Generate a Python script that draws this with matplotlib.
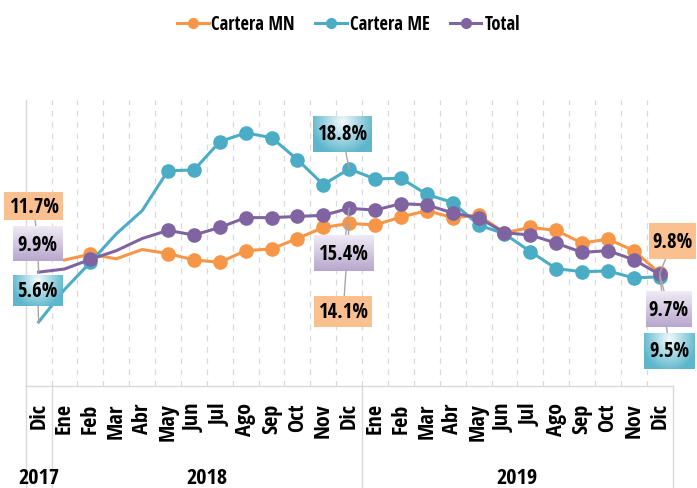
import numpy as np
import matplotlib
matplotlib.use("Agg")
import matplotlib.pyplot as plt
from matplotlib import font_manager as fm
from matplotlib.font_manager import FontProperties
from matplotlib.lines import Line2D
from matplotlib.transforms import IdentityTransform, blended_transform_factory
from matplotlib.colors import to_rgb

# ---------------- data ----------------
months = ['Dic', 'Ene', 'Feb', 'Mar', 'Abr', 'May', 'Jun', 'Jul', 'Ago', 'Sep', 'Oct', 'Nov',
          'Dic', 'Ene', 'Feb', 'Mar', 'Abr', 'May', 'Jun', 'Jul', 'Ago', 'Sep', 'Oct', 'Nov', 'Dic']
years = ['2017', '2018', '2019']
year_pos = [0, 6.5, 18.5]
series_names = ['Cartera MN', 'Cartera ME', 'Total']

cartera_mn = [11.7, 10.95, 11.45, 11.05, 11.85, 11.5, 10.95, 10.75, 11.75, 11.9, 12.8, 13.75,
              14.1, 13.97, 14.65, 15.2, 14.6, 14.8, 13.3, 13.75, 13.5, 12.4, 12.75, 11.75, 9.8]
cartera_me = [5.6, 8.4, 10.75, 13.2, 15.2, 18.65, 18.7, 21.15, 21.9, 21.5, 19.6, 17.45,
              18.8, 17.93, 18.0, 16.6, 15.9, 13.97, 13.2, 11.67, 10.2, 9.94, 10.0, 9.4, 9.5]
total = [9.9, 10.17, 11.0, 11.75, 12.8, 13.5, 13.1, 13.75, 14.6, 14.6, 14.7, 14.8,
         15.4, 15.25, 15.8, 15.7, 15.0, 14.6, 13.3, 13.1, 12.4, 11.6, 11.75, 10.97, 9.7]

# ---------------- font: prefer a narrow/condensed bold face ----------------
def pick_font():
    entries = fm.fontManager.ttflist
    def is_bold(f):
        w = f.weight
        if isinstance(w, str):
            return w in ('bold', 'heavy', 'extra bold', 'black', 'demibold', 'semibold')
        return w >= 600
    prefs = ['Liberation Sans Narrow', 'Open Sans Condensed', 'Arial Narrow',
             'Roboto Condensed', 'Noto Sans Condensed', 'Noto Sans', 'DejaVu Sans']
    cands = []
    for f in entries:
        nm = f.name
        narrow = ('Narrow' in nm or 'Condensed' in nm or 'Cond' in f.fname
                  or f.stretch not in ('normal', 400, 500))
        if narrow and is_bold(f) and 'Mono' not in nm and 'Serif' not in nm and 'Extra' not in f.fname:
            rank = next((i for i, p in enumerate(prefs) if nm.startswith(p)), 99)
            cands.append((rank, f.fname))
    if cands:
        cands.sort()
        return cands[0][1]
    for nm in ['Roboto', 'Liberation Sans', 'DejaVu Sans']:
        try:
            return fm.findfont(FontProperties(family=nm, weight='bold'), fallback_to_default=False)
        except Exception:
            pass
    return fm.findfont(FontProperties(weight='bold'))

FONT_FILE = pick_font()

W, H = 697, 489
fig = plt.figure(figsize=(W / 100, H / 100), dpi=100)
renderer = fig.canvas.get_renderer()

def fp(size):
    return FontProperties(fname=FONT_FILE, size=size)

def fit_size(sample, target_px, maxsize=16.0):
    t = fig.text(0, 0, sample, fontproperties=fp(10))
    w = t.get_window_extent(renderer).width
    t.remove()
    return min(maxsize, 10 * target_px / w)

fs_legend = fit_size('Cartera MN', 84)
fs_label = fit_size('11.7%', 50)
fs_year = fit_size('2017', 42)
fs_month = fit_size('Ene', 34)

# ---------------- axes ----------------
c_mn, c_me, c_tot = '#F79646', '#4BACC6', '#8064A2'
grid_c = '#D9D9D9'

L, R, B, T = 25.7, 672.7, 386.7, 101.0
ax = fig.add_axes([L / W, 1 - B / H, (R - L) / W, (B - T) / H])
XLIM = (-0.5, 24.5)
YLIM = (0.11, 24.74)

x = np.arange(len(months))
marked = [2] + list(range(5, 25))

lw, ms = 2.2, 9.5
ax.plot(x[1:], cartera_mn[1:], color=c_mn, lw=lw, marker='o', ms=ms,
        markevery=[i - 1 for i in marked], zorder=3)
ax.plot(x, cartera_me, color=c_me, lw=lw, marker='o', ms=ms, markevery=marked, zorder=3.1)
ax.plot(x, total, color=c_tot, lw=lw, marker='o', ms=ms, markevery=marked, zorder=3.2)

ax.set_xlim(*XLIM)
ax.set_ylim(*YLIM)

ax.set_xticks(np.arange(0.5, 24, 1), minor=True)
ax.grid(which='minor', axis='x', color=grid_c, lw=0.9, ls=(0, (4.5, 4.5)))
ax.set_axisbelow(True)
ax.set_xticks(x)
ax.set_xticklabels(months, rotation=90, fontproperties=fp(fs_month))
ax.tick_params(axis='x', which='both', length=0, pad=12)
ax.tick_params(axis='y', left=False, labelleft=False)
for s in ['top', 'right']:
    ax.spines[s].set_visible(False)
for s in ['left', 'bottom']:
    ax.spines[s].set_color(grid_c)
    ax.spines[s].set_linewidth(1.0)

btr = blended_transform_factory(ax.transData, ax.transAxes)
ext = -(H - B) / (B - T)
for xs in [-0.5, 0.5, 12.5, 24.5]:
    ax.plot([xs, xs], [0, ext], transform=btr, color=grid_c, lw=1.0, clip_on=False)
for yp, yr in zip(year_pos, years):
    ax.text(yp, -(479 - B) / (B - T), yr, transform=btr, ha='center', va='center',
            fontproperties=fp(fs_year))

# ---------------- data labels ----------------
def grad_img(kind, nx=60, ny=30):
    yy, xx = np.mgrid[0:1:ny * 1j, 0:1:nx * 1j]
    if kind == 'me':
        r = np.sqrt(((xx - 0.5) / 0.55) ** 2 + ((yy - 0.15) / 0.95) ** 2)
        t = np.clip(r, 0, 1)[..., None]
        c0, c1 = np.array(to_rgb('#F2FAFC')), np.array(to_rgb('#5DB6CC'))
    elif kind == 'tot':
        t = yy[..., None]
        c0, c1 = np.array(to_rgb('#EEEAF4')), np.array(to_rgb('#B8A7CE'))
    else:
        t = yy[..., None] * 0
        c0, c1 = np.array(to_rgb('#FAC090')), np.array(to_rgb('#FAC090'))
    return c0 * (1 - t) + c1 * t

# (series values, kind, index, dx, dy, box w, box h)  -- offsets in pixels
labels = [
    (cartera_mn, 'mn', 0, -5, 45, 59, 28),
    (total, 'tot', 0, -1, 28, 50, 34),
    (cartera_me, 'me', 0, -1, 31.5, 50, 31),
    (cartera_me, 'me', 12, -7, 35, 59, 36),
    (total, 'tot', 12, -6, -45, 59, 36),
    (cartera_mn, 'mn', 12, -6, -88, 58, 31),
    (cartera_mn, 'mn', 24, 13, 32, 47, 36),
    (total, 'tot', 24, 9, -35, 46, 36),
    (cartera_me, 'me', 24, 10, -74, 51, 36),
]

inv = ax.transData.inverted()
for vals, kind, i, dx, dy, bw, bh in labels:
    px, py = ax.transData.transform((x[i], vals[i]))
    cx, cy = px + dx, py + dy
    ax.add_line(Line2D([cx, px], [cy, py], transform=IdentityTransform(),
                       color='#A6A6A6', lw=1.0, zorder=4, clip_on=False))
    (x0, y0) = inv.transform((cx - bw / 2, cy - bh / 2))
    (x1, y1) = inv.transform((cx + bw / 2, cy + bh / 2))
    ax.imshow(grad_img(kind), extent=[x0, x1, y0, y1], origin='upper', aspect='auto',
              interpolation='bilinear', zorder=5, clip_on=False)
    ax.text(cx, cy, f'{vals[i]:.1f}%', transform=IdentityTransform(), ha='center',
            va='center', fontproperties=fp(fs_label), color='black', zorder=6)

ax.set_xlim(*XLIM)
ax.set_ylim(*YLIM)

# ---------------- legend ----------------
handles = [Line2D([], [], color=c, lw=lw, marker='o', ms=7) for c in (c_mn, c_me, c_tot)]
fig.legend(handles, series_names, loc='center', bbox_to_anchor=(0.5, 1 - 25 / H), ncol=3,
           frameon=False, prop=fp(fs_legend), handlelength=1.7, handletextpad=0.15,
           columnspacing=1.1)

fig.savefig('out.png', dpi=100)
